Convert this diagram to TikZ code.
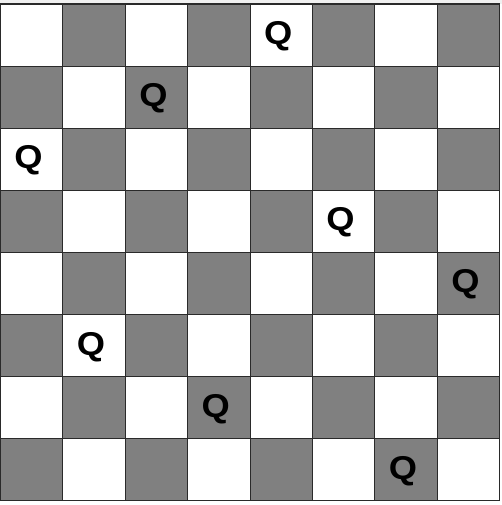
\documentclass[tikz,border=0pt]{standalone}
\usepackage{fontspec}
\setmainfont{Liberation Sans}
\definecolor{darksq}{HTML}{808080}
\definecolor{topedge}{HTML}{F0F0F0}
\definecolor{sqline}{HTML}{2A2A2A}

\begin{document}
\begin{tikzpicture}[
	x=62.4pt, y=-62.1pt,
	square/.style={draw=sqline, line width=1.1pt},
	queen/.style={font=\bfseries\fontsize{33}{33}\selectfont, xscale=1.1, transform shape}]
	\useasboundingbox (-0.5pt,4pt) rectangle (501.5pt,-501pt);
	\fill[topedge] (-0.5pt,4pt) rectangle (501.5pt,0pt);
	% board
	\foreach \r in {0,...,7}
	  \foreach \c in {0,...,7} {
	    \pgfmathtruncatemacro\odd{mod(\r+\c,2)}
	    \ifnum\odd=1
	      \draw[square, fill=darksq] (\c,\r) rectangle ++(1,1);
	    \else
	      \draw[square, fill=white] (\c,\r) rectangle ++(1,1);
	    \fi
	  }
	% queens
	\foreach \r/\c in {0/4,1/2,2/0,3/5,4/7,5/1,6/3,7/6}
	  \node[queen] (q\r) at (\c+0.45,\r+0.52) {Q};
\end{tikzpicture}
\end{document}
